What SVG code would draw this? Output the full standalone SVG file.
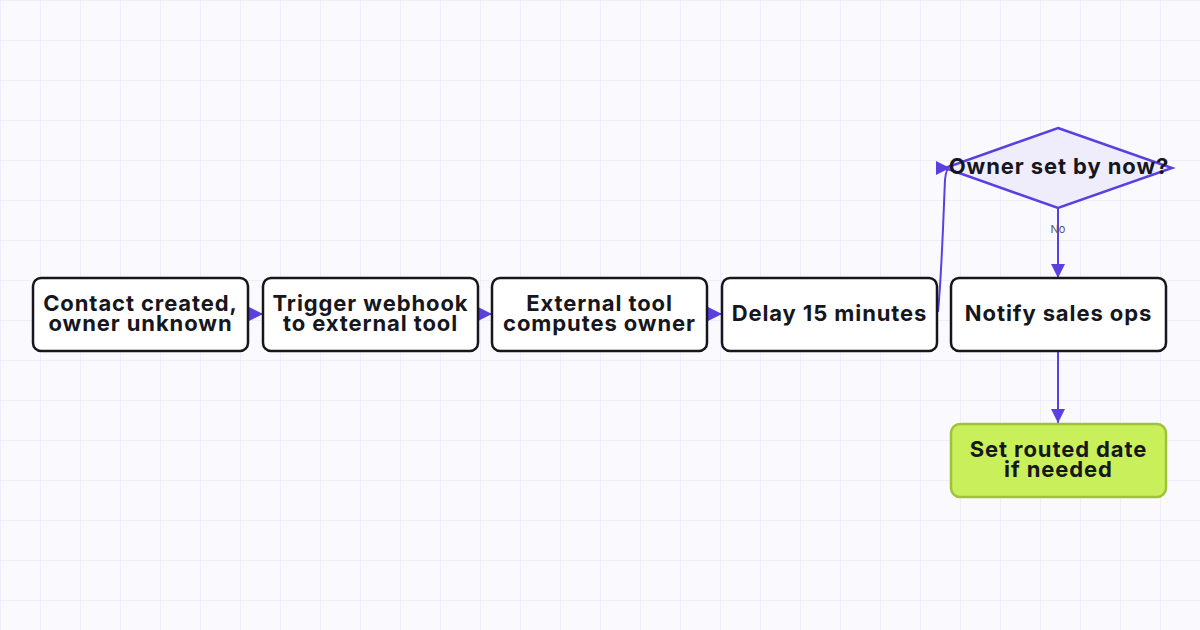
<svg xmlns="http://www.w3.org/2000/svg" width="1200" height="630" viewBox="0 0 1200 630">
<defs>
<pattern id="grid" width="40" height="40" patternUnits="userSpaceOnUse">
<path d="M40 0 H0 V40" fill="none" stroke="#ebe9f7" stroke-width="1.5"/>
</pattern>
<marker id="ah" viewBox="0 0 10 10" refX="10" refY="5" markerWidth="14" markerHeight="14" markerUnits="userSpaceOnUse" orient="auto">
<path d="M0 0 L10 5 L0 10 Z" fill="#5b3fe0"/>
</marker>
</defs>
<style>
.box{fill:#fff;stroke:#16161d;stroke-width:2.5}
.green{fill:#c9f05a;stroke:#a0c238;stroke-width:2.5}
.dia{fill:#efedfc;stroke:#5b3fe0;stroke-width:2.5}
.t{font-family:Inter,"Noto Sans",sans-serif;font-weight:700;font-size:22px;letter-spacing:0.9px;fill:#16161d;text-anchor:middle}
.c{fill:none;stroke:#5b3fe0;stroke-width:2}
.lbl{font-family:Inter,"Noto Sans",sans-serif;font-size:11px;fill:#55555f;text-anchor:middle}
</style>
<rect width="1200" height="630" fill="#fafafe"/>
<rect width="1200" height="630" fill="url(#grid)"/>
<g id="connectors">
<path class="c" d="M248 314 H263" marker-end="url(#ah)"/>
<path class="c" d="M478 314 H492" marker-end="url(#ah)"/>
<path class="c" d="M707 314 H722" marker-end="url(#ah)"/>
<path class="c" d="M938 312 C942 270 944 200 945 180 Q946 168 950 168" marker-end="url(#ah)"/>
<path class="c" d="M1058 208 V278" marker-end="url(#ah)"/>
<text class="lbl" x="1058" y="233">No</text>
<path class="c" d="M1058 351 V423" marker-end="url(#ah)"/>
</g>
<g id="n1"><rect class="box" x="33" y="278" width="215" height="73" rx="8"/><text class="t" x="140.5" y="311">Contact created,</text><text class="t" x="140.5" y="331">owner unknown</text></g>
<g id="n2"><rect class="box" x="263" y="278" width="215" height="73" rx="8"/><text class="t" x="370.5" y="311">Trigger webhook</text><text class="t" x="370.5" y="331">to external tool</text></g>
<g id="n3"><rect class="box" x="492" y="278" width="215" height="73" rx="8"/><text class="t" x="599.5" y="311">External tool</text><text class="t" x="599.5" y="331">computes owner</text></g>
<g id="n4"><rect class="box" x="722" y="278" width="215" height="73" rx="8"/><text class="t" x="829.5" y="321">Delay 15 minutes</text></g>
<g id="d1"><path class="dia" d="M1058 128 L1172 168 L1058 208 L945 168 Z"/><text class="t" x="1059" y="174">Owner set by now?</text></g>
<g id="n5"><rect class="box" x="951" y="278" width="215" height="73" rx="8"/><text class="t" x="1058.5" y="321">Notify sales ops</text></g>
<g id="n6"><rect class="green" x="951" y="424" width="215" height="73" rx="9"/><text class="t" x="1058.5" y="457">Set routed date</text><text class="t" x="1058.5" y="477">if needed</text></g>
</svg>
